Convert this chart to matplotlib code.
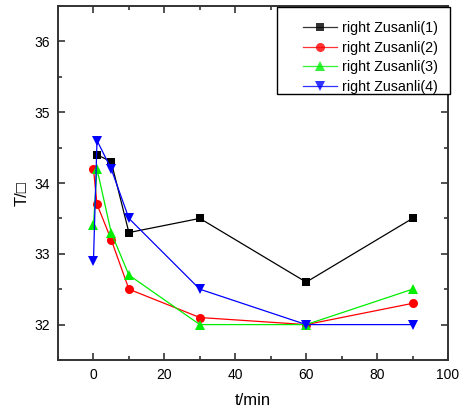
import matplotlib
matplotlib.use("Agg")
import matplotlib.pyplot as plt
from matplotlib.ticker import MultipleLocator
from matplotlib.patches import Rectangle

plt.rcParams['font.family'] = ['Liberation Sans', 'DejaVu Sans']

t_black = [1, 5, 10, 30, 60, 90]
y_black = [34.4, 34.3, 33.3, 33.5, 32.6, 33.5]
t_all = [0, 1, 5, 10, 30, 60, 90]
y_red = [34.2, 33.7, 33.2, 32.5, 32.1, 32.0, 32.3]
y_green = [33.4, 34.2, 33.3, 32.7, 32.0, 32.0, 32.5]
y_blue = [32.9, 34.6, 34.2, 33.5, 32.5, 32.0, 32.0]
labels = ['right Zusanli(1)', 'right Zusanli(2)', 'right Zusanli(3)', 'right Zusanli(4)']

W, H = 460, 413
fig = plt.figure(figsize=(W/100, H/100), dpi=100)
ax = fig.add_axes([58/W, 1-360/H, 390/W, 354/H])

lw = 0.9
ax.plot(t_black, y_black, '-s', color='black', lw=lw, ms=6, mew=0, label=labels[0])
ax.plot(t_all, y_red, '-o', color='red', lw=lw, ms=6.5, mew=0, label=labels[1])
ax.plot(t_all, y_green, '-^', color='#00ee00', lw=lw, ms=7.5, mew=0, label=labels[2])
ax.plot(t_all, y_blue, '-v', color='blue', lw=lw, ms=7.5, mew=0, label=labels[3])

ax.set_xlim(-10, 100)
ax.set_ylim(31.5, 36.5)
ax.xaxis.set_major_locator(MultipleLocator(20))
ax.xaxis.set_minor_locator(MultipleLocator(10))
ax.yaxis.set_minor_locator(MultipleLocator(0.5))
ax.set_yticks([32, 33, 34, 35, 36])

for s in ax.spines.values():
    s.set_linewidth(1.4)
    s.set_color('#333333')
ax.tick_params(which='both', direction='in', top=True, right=True, color='#333333', labelsize=10, width=1.2)
ax.tick_params(which='major', length=5, pad=6)
ax.tick_params(which='minor', length=3)

ax.set_xlabel('t/min', fontsize=12, labelpad=8)
ax.set_ylabel('T/\u25a1', fontsize=12)
ax.yaxis.set_label_coords((30-58)/390, (360-194)/354)

# legend frame
frame = Rectangle((277/W, 1-94/H), 173/W, 87/H, transform=fig.transFigure,
                  facecolor='white', edgecolor='black', lw=1.0, zorder=10)
fig.patches.append(frame)

leg = fig.legend(*ax.get_legend_handles_labels(), loc='upper left',
                 bbox_to_anchor=(303/W, 1-21/H), bbox_transform=fig.transFigure,
                 borderaxespad=0, borderpad=0, frameon=False, fontsize=10.3,
                 handlelength=2.4, handletextpad=0.35, labelspacing=0.4)
leg.set_zorder(11)
for h in leg.legend_handles:
    h.set_alpha(0.8)

fig.savefig('out.png', dpi=100)
